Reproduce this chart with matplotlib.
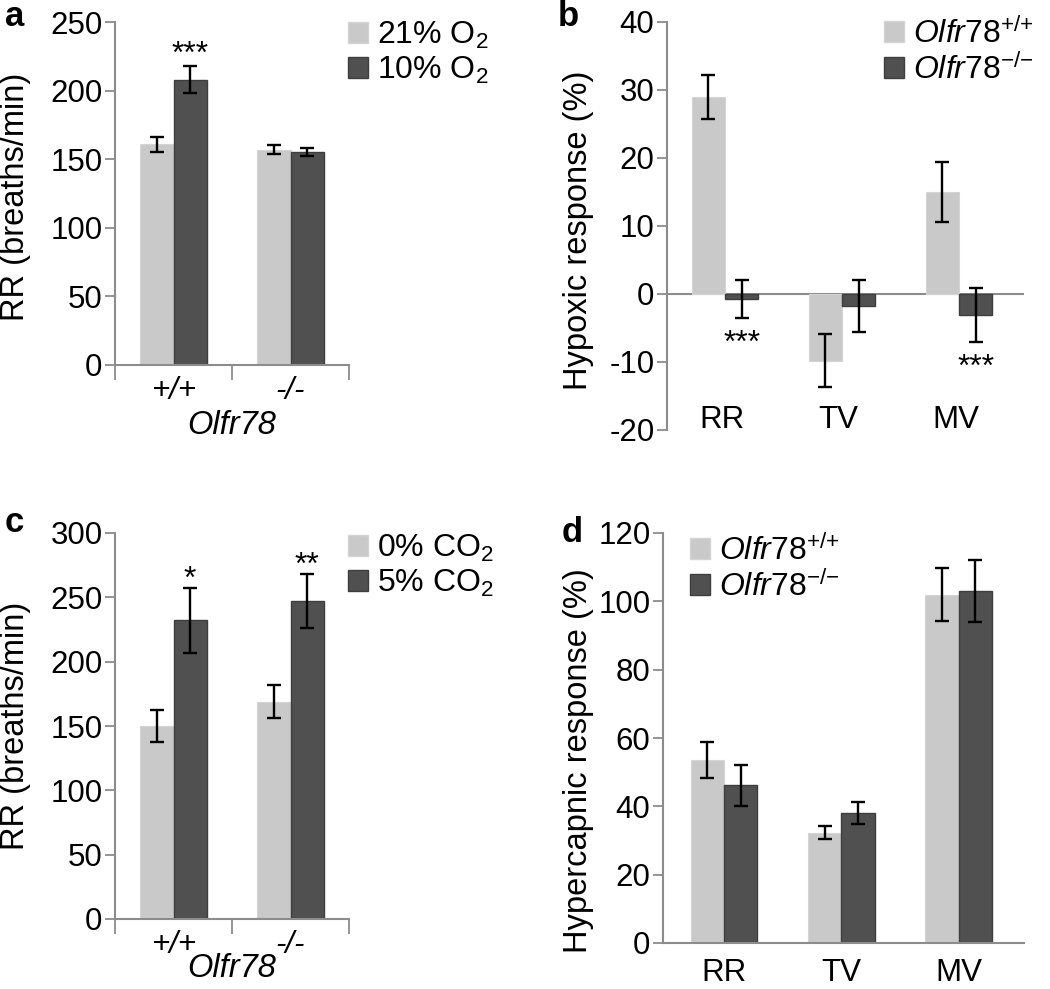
import matplotlib
matplotlib.use('Agg')
import matplotlib.pyplot as plt
from matplotlib.patches import Patch
import numpy as np

plt.rcParams['font.family'] = ['Liberation Sans', 'DejaVu Sans']
plt.rcParams['mathtext.fontset'] = 'custom'
plt.rcParams['mathtext.rm'] = 'Liberation Sans'
plt.rcParams['mathtext.it'] = 'Liberation Sans:italic'
plt.rcParams['mathtext.bf'] = 'Liberation Sans:bold'
plt.rcParams['axes.unicode_minus'] = False

LIGHT = '#c9c9c9'
DARK = '#505050'
DARK_EDGE = '#3e3e3e'
SPINE = '#8c8c8c'
FS = 22.5      # tick labels
LFS = 23.5     # axis labels
GFS = 23       # legend
SFS = 23       # significance stars

# ---------------- data ----------------
genotypes = ['+/+', '-/-']
a_21 = [161, 157]
a_21_err = [5.5, 3.5]
a_10 = [208, 155]
a_10_err = [10, 3]
a_stars = ['***', '']
a_yticks = [0, 50, 100, 150, 200, 250]

b_cats = ['RR', 'TV', 'MV']
b_wt = [29, -9.8, 15]
b_wt_err = [3.2, 3.9, 4.4]
b_ko = [-0.8, -1.8, -3.1]
b_ko_err = [2.8, 3.8, 4.0]
b_stars = ['***', '', '***']
b_yticks = [-20, -10, 0, 10, 20, 30, 40]

c_0 = [150, 169]
c_0_err = [12.5, 12.5]
c_5 = [232, 247]
c_5_err = [25, 21]
c_stars = ['*', '**']
c_yticks = [0, 50, 100, 150, 200, 250, 300]

d_cats = ['RR', 'TV', 'MV']
d_wt = [53.6, 32.3, 102]
d_wt_err = [5.3, 2.0, 7.7]
d_ko = [46.2, 38, 103]
d_ko_err = [6.0, 3.3, 9.0]
d_yticks = [0, 20, 40, 60, 80, 100, 120]

fig = plt.figure(figsize=(10.5, 9.89), dpi=100)
W, H = 1050, 989


def px_axes(l, t, r, b):
    return fig.add_axes([l / W, 1 - b / H, (r - l) / W, (b - t) / H])


BW = 0.285


def draw_pair(ax, centers, v1, e1, v2, e2):
    x1 = np.array(centers) - BW / 2
    x2 = np.array(centers) + BW / 2
    ax.bar(x1, v1, width=BW, color=LIGHT, edgecolor='#d4d4d4', linewidth=0.8, zorder=2)
    ax.bar(x2, v2, width=BW, color=DARK, edgecolor=DARK_EDGE, linewidth=1.0, zorder=2)
    ekw = dict(fmt='none', ecolor='black', elinewidth=1.7, capsize=5, capthick=1.7, zorder=3)
    ax.errorbar(x1, v1, yerr=e1, **ekw)
    ax.errorbar(x2, v2, yerr=e2, **ekw)
    return x1, x2


def style_axes(ax):
    for s in ['top', 'right']:
        ax.spines[s].set_visible(False)
    for s in ['left', 'bottom']:
        ax.spines[s].set_color(SPINE)
        ax.spines[s].set_linewidth(1.5)
    ax.tick_params(axis='y', colors=SPINE, labelcolor='black', labelsize=FS, length=7, width=1.3, pad=2)


def genotype_xaxis(ax, labelpad):
    ax.set_xlim(0, 2)
    ax.set_xticks([0.5, 1.5])
    ax.set_xticklabels(genotypes, fontsize=FS, style='italic')
    ax.tick_params(axis='x', which='major', length=0, pad=8)
    ax.set_xticks([0, 1, 2], minor=True)
    ax.tick_params(axis='x', which='minor', length=11, width=1.3, color=SPINE)
    ax.set_xlabel('Olfr78', fontsize=LFS, style='italic', labelpad=labelpad)


legend_kw = dict(frameon=False, fontsize=GFS, handlelength=0.62, handleheight=0.62,
                 handletextpad=0.3, labelspacing=0.12, borderaxespad=0, borderpad=0)

WT_LAB = r'$\mathit{Olfr78}^{{+}/{+}}$'
KO_LAB = r'$\mathit{Olfr78}^{{-}/{-}}$'

# ---------------- panel a ----------------
axa = px_axes(115, 22, 349, 365)
style_axes(axa)
xa1, xa2 = draw_pair(axa, [0.5, 1.5], a_21, a_21_err, a_10, a_10_err)
axa.set_ylim(0, 250)
axa.set_yticks(a_yticks)
genotype_xaxis(axa, 3)
axa.set_ylabel('RR (breaths/min)', fontsize=LFS)
axa.yaxis.set_label_coords(-0.36, 0.49)
for x, v, e, s in zip(xa2, a_10, a_10_err, a_stars):
    if s:
        axa.text(x, v + e + 2, s, ha='center', va='baseline', fontsize=SFS)
axa.legend(handles=[Patch(facecolor=LIGHT, edgecolor='#d4d4d4', label='21% O$_2$'),
                    Patch(facecolor=DARK, edgecolor=DARK_EDGE, label='10% O$_2$')],
           loc='upper left', bbox_to_anchor=(348 / W, 1 - 20 / H),
           bbox_transform=fig.transFigure, **legend_kw)
fig.text(5 / W, 1 - 16 / H, 'a', fontsize=25, fontweight='bold', va='center', ha='left')

# ---------------- panel b ----------------
axb = px_axes(667, 22, 1024, 430)
style_axes(axb)
axb.spines['bottom'].set_visible(False)
centers_b = np.arange(len(b_cats))
xb1, xb2 = draw_pair(axb, centers_b, b_wt, b_wt_err, b_ko, b_ko_err)
axb.axhline(0, color=SPINE, linewidth=1.5, zorder=1)
axb.set_ylim(-20, 40)
axb.set_xlim(-0.496, 2.556)
axb.set_yticks(b_yticks)
axb.set_xticks([])
for x, lab in zip(centers_b, b_cats):
    axb.text(x - 0.03, -18.6, lab, ha='center', va='center', fontsize=FS)
for x, v, e, s in zip(xb2, b_ko, b_ko_err, b_stars):
    if s:
        axb.text(x, v - e - 4.9, s, ha='center', va='baseline', fontsize=SFS)
axb.set_ylabel('Hypoxic response (%)', fontsize=LFS)
axb.yaxis.set_label_coords(-0.205, 0.49)
axb.legend(handles=[Patch(facecolor=LIGHT, edgecolor='#d4d4d4', label=WT_LAB),
                    Patch(facecolor=DARK, edgecolor=DARK_EDGE, label=KO_LAB)],
           loc='upper left', bbox_to_anchor=(884 / W, 1 - 18 / H),
           bbox_transform=fig.transFigure, **legend_kw)
fig.text(558 / W, 1 - 16 / H, 'b', fontsize=25, fontweight='bold', va='center', ha='left')

# ---------------- panel c ----------------
axc = px_axes(115, 533, 349, 919)
style_axes(axc)
xc1, xc2 = draw_pair(axc, [0.5, 1.5], c_0, c_0_err, c_5, c_5_err)
axc.set_ylim(0, 300)
axc.set_yticks(c_yticks)
genotype_xaxis(axc, -5)
axc.set_ylabel('RR (breaths/min)', fontsize=LFS)
axc.yaxis.set_label_coords(-0.36, 0.5)
for x, v, e, s in zip(xc2, c_5, c_5_err, c_stars):
    if s:
        axc.text(x, v + e + 0.5, s, ha='center', va='baseline', fontsize=SFS)
axc.legend(handles=[Patch(facecolor=LIGHT, edgecolor='#d4d4d4', label='0% CO$_2$'),
                    Patch(facecolor=DARK, edgecolor=DARK_EDGE, label='5% CO$_2$')],
           loc='upper left', bbox_to_anchor=(348 / W, 1 - 533 / H),
           bbox_transform=fig.transFigure, **legend_kw)
fig.text(5 / W, 1 - 523 / H, 'c', fontsize=25, fontweight='bold', va='center', ha='left')

# ---------------- panel d ----------------
axd = px_axes(663, 533, 1024, 943)
style_axes(axd)
centers_d = np.arange(len(d_cats))
draw_pair(axd, centers_d, d_wt, d_wt_err, d_ko, d_ko_err)
axd.set_ylim(0, 120)
axd.set_xlim(-0.52, 2.556)
axd.set_yticks(d_yticks)
axd.set_xticks(centers_d)
axd.set_xticklabels(d_cats, fontsize=FS)
axd.tick_params(axis='x', length=0, pad=11)
axd.set_ylabel('Hypercapnic response (%)', fontsize=LFS)
axd.yaxis.set_label_coords(-0.19, 0.445)
axd.legend(handles=[Patch(facecolor=LIGHT, edgecolor='#d4d4d4', label=WT_LAB),
                    Patch(facecolor=DARK, edgecolor=DARK_EDGE, label=KO_LAB)],
           loc='upper left', bbox_to_anchor=(690 / W, 1 - 535 / H),
           bbox_transform=fig.transFigure, **legend_kw)
fig.text(562 / W, 1 - 533 / H, 'd', fontsize=25, fontweight='bold', va='center', ha='left')

fig.savefig('out.png', dpi=100)
